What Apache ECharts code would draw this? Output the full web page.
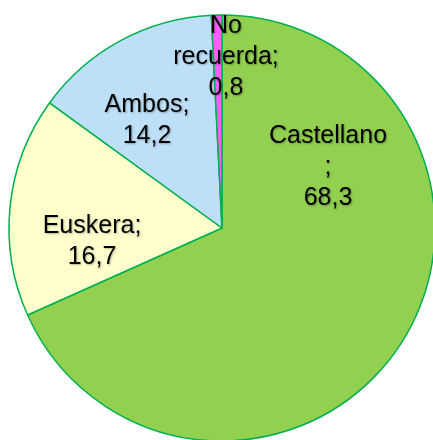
<!DOCTYPE html>
<html>
<head>
<meta charset="utf-8">
<script src="https://cdn.jsdelivr.net/npm/echarts@6/dist/echarts.min.js"></script>
<style>
html, body { margin: 0; padding: 0; background: #fff; }
#chart { width: 433px; height: 440px; }
</style>
</head>
<body>
<div id="chart"></div>
<script>
/* ===== 数据 ===== */
const categories = ['Castellano', 'Euskera', 'Ambos', 'No recuerda'];
const values = [68.3, 16.7, 14.2, 0.8];
const sliceColors = ['#92D050', '#FFFFCC', '#BDE0F8', '#FF5CFF'];
// 标签文字（原图的换行方式）
const labelTexts = ['Castellano\n;\n68,3', 'Euskera;\n16,7', 'Ambos;\n14,2', 'No\nrecuerda;\n0,8'];
// 标签中心位置（像素）
const labelPos = [[328, 167], [92, 242], [147, 121], [226, 57]];

const chart = echarts.init(document.getElementById('chart'));

chart.setOption({
    animation: false,
    backgroundColor: '#fff',
    series: [{
        type: 'pie',
        center: [222, 228],
        radius: 213,
        startAngle: 90,
        clockwise: true,
        avoidLabelOverlap: false,
        itemStyle: { borderColor: '#00B050', borderWidth: 1.5 },
        label: {
            show: true,
            position: 'inside',
            formatter: p => labelTexts[p.dataIndex],
            color: '#000',
            fontFamily: 'Liberation Sans, Arial, sans-serif',
            fontSize: 25,
            lineHeight: 31,
            align: 'center',
            textShadowColor: 'rgba(0,0,0,0.3)',
            textShadowBlur: 2,
            textShadowOffsetX: 1,
            textShadowOffsetY: 1
        },
        labelLine: { show: false },
        labelLayout: p => ({
            x: labelPos[p.dataIndex][0],
            y: labelPos[p.dataIndex][1],
            align: 'center',
            verticalAlign: 'middle'
        }),
        emphasis: { disabled: true },
        data: categories.map((name, i) => ({
            name, value: values[i], itemStyle: { color: sliceColors[i] }
        }))
    }]
});
</script>
</body>
</html>
